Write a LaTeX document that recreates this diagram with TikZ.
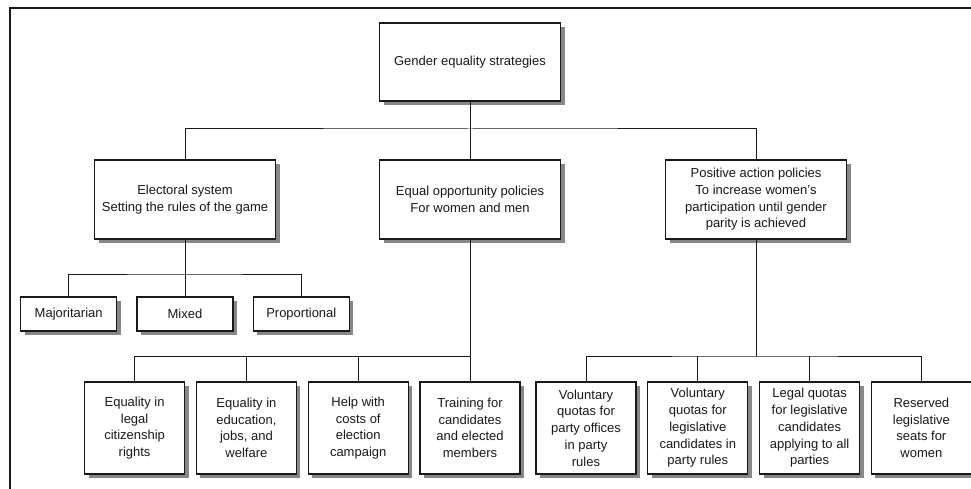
\documentclass[tikz,border=0pt]{standalone}
\usepackage{fontspec}
\setmainfont{Liberation Sans}
\usetikzlibrary{positioning,shadows}
\definecolor{ShadowGray}{RGB}{135,135,135}
\definecolor{DarkText}{RGB}{25,25,25}

\begin{document}
\begin{tikzpicture}[
    x=1pt, y=-1pt,
    node distance=10.5pt,
    box/.style={rectangle, draw=DarkText, line width=1.3pt, fill=white, inner sep=3pt,
        drop shadow={shadow xshift=4pt, shadow yshift=-4pt, fill=ShadowGray, opacity=1},
        align=center, font=\fontsize{13}{16.7}\selectfont, text=DarkText},
    head/.style={box, minimum width=181pt, minimum height=79pt},
    system/.style={box, minimum width=96pt, minimum height=34pt},
    leaf/.style={box, minimum width=100pt, minimum height=92pt},
    link/.style={draw=DarkText, line width=1pt},
]
\useasboundingbox (0,0) rectangle (971,489);
\draw[line width=2pt, DarkText] (10,489) -- (10,8) -- (971,8);

\node[head, minimum height=78pt] (gs) at (470,62) {Gender equality strategies};

\node[head] (es) at (185,199.5) {Electoral system\\Setting the rules of the game};
\node[head] (eo) at (470,199.5) {Equal opportunity policies\\For women and men};
\node[head] (pa) at (756,199.5) {Positive action policies\\To increase women's\\participation until gender\\parity is achieved};

\node[system] (mix) at (185,314) {Mixed};
\node[system, left=19pt of mix] (maj) {Majoritarian};
\node[system, right=19pt of mix] (pro) {Proportional};

\node[leaf] (e4) at (470,428) {Training for\\candidates\\and elected\\members};
\node[leaf, left=of e4] (e3) {Help with\\costs of\\election\\campaign};
\node[leaf, left=of e3] (e2) {Equality in\\education,\\jobs, and\\welfare};
\node[leaf, left=of e2] (e1) {Equality in\\legal\\citizenship\\rights};

\node[leaf] (p1) at (586,428) {Voluntary\\quotas for\\party offices\\in party\\rules};
\node[leaf, right=of p1] (p2) {Voluntary\\quotas for\\legislative\\candidates in\\party rules};
\node[leaf, right=of p2] (p3) {Legal quotas\\for legislative\\candidates\\applying to all\\parties};
\node[leaf, right=of p3] (p4) {Reserved\\legislative\\seats for\\women};

% connectors
\coordinate (top) at (470,129);
\draw[link] (gs.south) -- (eo.north);
\draw[link] (es.north) |- (top) -| (pa.north);

\coordinate (esbus) at (185,274);
\draw[link] (es.south) -- (mix.north);
\draw[link] (maj.north) |- (esbus) -| (pro.north);

\coordinate (eobus) at (470,356);
\draw[link] (eo.south) -- (e4.north);
\draw[link] (e1.north) |- (eobus);
\draw[link] (e2.north) -- (e2.north |- eobus);
\draw[link] (e3.north) -- (e3.north |- eobus);

\coordinate (pabus) at (756,356);
\draw[link] (pa.south) -- (pabus);
\draw[link] (p1.north) |- (pabus) -| (p4.north);
\draw[link] (p2.north) -- (p2.north |- pabus);
\draw[link] (p3.north) -- (p3.north |- pabus);
\end{tikzpicture}
\end{document}
